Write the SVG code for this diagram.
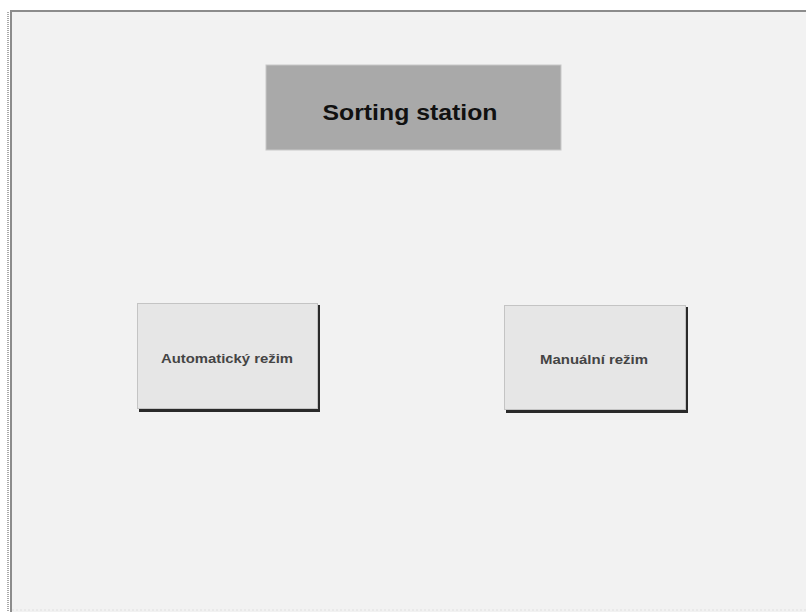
<svg xmlns="http://www.w3.org/2000/svg" width="806" height="612" viewBox="0 0 806 612">
<defs>
<style>
.btn{fill:#e6e6e6;stroke:#c4c4c4;stroke-width:1}
.shadow{fill:#2a2a2a}
.btxt{font-family:"Liberation Sans",Arial,sans-serif;font-size:13.5px;font-weight:bold;fill:#444;text-anchor:middle}
</style>
</defs>
<rect x="0" y="0" width="806" height="612" fill="#ffffff"/>
<rect x="11" y="11" width="800" height="606" fill="#f2f2f2"/>
<line x1="10" y1="11" x2="806" y2="11" stroke="#8c8c8c" stroke-width="2"/>
<line x1="11" y1="10" x2="11" y2="612" stroke="#8c8c8c" stroke-width="2"/>
<line x1="8" y1="12" x2="8" y2="612" stroke="#aaaaaa" stroke-width="2" stroke-dasharray="1,1"/>
<line x1="12" y1="610" x2="806" y2="610" stroke="#e0e0e0" stroke-width="1" stroke-dasharray="2,2"/>
<g id="title">
<rect x="266" y="65" width="295" height="85" fill="#a9a9a9" stroke="#c8c8c8" stroke-width="1"/>
<text x="410" y="120" font-family="Liberation Sans,Arial,sans-serif" font-size="22" font-weight="bold" fill="#111" text-anchor="middle" textLength="175" lengthAdjust="spacingAndGlyphs">Sorting station</text>
</g>
<g id="btn-auto">
<rect class="shadow" x="139" y="305" width="181" height="107"/>
<rect class="btn" x="137.5" y="303.5" width="180" height="105"/>
<text class="btxt" x="227" y="363" textLength="132" lengthAdjust="spacingAndGlyphs">Automatický režim</text>
</g>
<g id="btn-manual">
<rect class="shadow" x="506" y="307" width="182" height="106"/>
<rect class="btn" x="504.5" y="305.5" width="181" height="104"/>
<text class="btxt" x="594" y="364" textLength="108" lengthAdjust="spacingAndGlyphs">Manuální režim</text>
</g>
<g id="connectors"></g>
</svg>
